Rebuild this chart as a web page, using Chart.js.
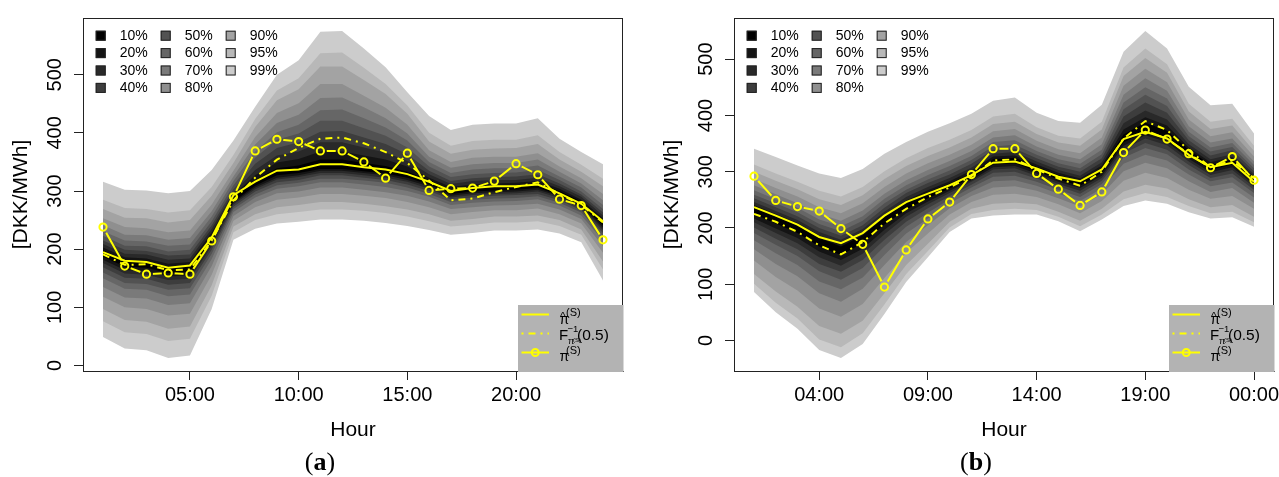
<!DOCTYPE html>
<html>
<head>
<meta charset="utf-8">
<script src="https://cdn.jsdelivr.net/npm/chart.js@4.4.1/dist/chart.umd.min.js"></script>
<style>
  body{margin:0;background:#fff;}
  #wrap{position:relative;width:1279px;height:477px;overflow:hidden;background:#fff;}
  .panel{position:absolute;top:0;height:477px;overflow:hidden;}
  .cap{position:absolute;top:447px;width:80px;text-align:center;font:26px/30px "Liberation Serif","Times New Roman",serif;color:#000;}
</style>
</head>
<body>
<div id="wrap">
  <div class="panel" style="left:0;width:640px"><canvas id="chartA" width="640" height="477"></canvas></div>
  <div class="panel" style="left:640px;width:639px"><canvas id="chartB" width="680" height="477"></canvas></div>
  <div class="cap" style="left:280px">(<b>a</b>)</div>
  <div class="cap" style="left:936px">(<b>b</b>)</div>
</div>
<script>
const YEL = '#ffff00';
const hours = [1,2,3,4,5,6,7,8,9,10,11,12,13,14,15,16,17,18,19,20,21,22,23,24];
const yTicks = [0,100,200,300,400,500];
const bandLabels = ['10%','20%','30%','40%','50%','60%','70%','80%','90%','95%','99%'];
const bandColors = ['#000000','#141414','#292929','#3d3d3d','#525252','#666666','#7a7a7a','#8f8f8f','#a3a3a3','#b8b8b8','#cccccc'];

// ---- panel (a)
const xTicksA = [5,10,15,20];
const xLabelsA = ['05:00','10:00','15:00','20:00'];
const piSA   = [238,171,157,159,157,214,290,369,389,385,369,369,350,322,365,301,304,305,317,347,328,286,275,216];
const piHatA = [195,180,178,168,172,220,293,316,335,337,346,346,341,337,329,316,300,305,308,308,311,296,278,248];
const medA   = [191,173,174,164,165,215,284,323,354,374,390,392,382,367,348,318,284,287,298,307,315,295,276,246];

const aUp10 = [198,181,179,170,172,225,289,319,339,344,354,354,348,343,333,319,302,306,308,309,313,300,282,249];
const aUp20 = [203,186,184,175,178,229,293,327,349,355,368,368,361,354,342,323,307,311,313,314,317,304,285,253];
const aUp30 = [209,192,191,182,184,235,298,336,361,368,384,384,375,366,352,329,312,317,319,319,323,308,290,258];
const aUp40 = [215,199,197,189,191,241,303,347,374,384,402,403,392,381,363,335,317,322,324,325,329,313,294,263];
const aUp50 = [223,206,205,196,199,248,310,357,388,399,421,421,408,395,375,342,324,329,331,332,336,319,299,269];
const aUp60 = [231,215,213,206,208,256,317,368,401,414,439,440,425,409,387,350,331,337,339,339,344,325,306,276];
const aUp70 = [241,225,224,216,219,265,325,380,417,431,460,461,444,425,399,359,340,346,348,348,354,333,313,284];
const aUp80 = [253,238,236,229,232,277,335,393,434,451,484,484,464,443,414,370,350,357,359,359,365,342,322,295];
const aUp90 = [269,254,253,246,250,292,348,410,456,475,514,514,491,467,433,385,364,371,373,374,381,354,333,308];
const aUp95 = [285,271,269,263,267,307,362,424,473,494,537,538,512,484,447,400,378,386,388,388,396,367,345,321];
const aUp99 = [316,302,301,296,300,336,387,445,500,525,574,575,545,513,470,429,405,414,416,416,425,390,367,346];

const aLo10 = [187,170,168,159,161,215,282,309,327,331,338,338,334,330,323,311,295,299,301,302,305,293,275,241];
const aLo20 = [182,164,162,153,155,210,280,306,323,327,335,335,331,327,319,308,292,296,298,299,302,291,273,237];
const aLo30 = [176,158,156,147,149,205,277,303,320,324,331,331,327,323,316,304,289,293,295,296,299,288,270,233];
const aLo40 = [169,151,149,139,142,199,273,299,315,319,327,327,323,319,311,300,286,289,292,293,295,284,267,228];
const aLo50 = [160,142,140,130,133,192,269,294,310,314,321,321,318,314,306,295,281,285,287,288,291,280,263,222];
const aLo60 = [150,132,130,119,122,183,264,289,304,308,315,315,311,307,300,290,276,280,282,283,286,275,258,215];
const aLo70 = [135,117,115,104,107,171,257,281,296,299,306,306,302,298,292,282,269,272,275,276,278,268,252,205];
const aLo80 = [118,100,97,86,89,156,249,272,285,289,295,295,292,288,281,272,260,264,267,267,270,260,244,194];
const aLo90 = [97,78,75,63,67,138,239,260,272,276,281,281,278,274,268,260,249,252,256,256,258,250,234,179];
const aLo95 = [76,57,54,42,46,120,229,250,260,264,268,268,266,262,256,248,239,242,246,246,248,240,225,165];
const aLo99 = [49,29,26,13,17,97,216,235,244,247,251,251,249,245,240,233,225,228,232,232,234,227,212,146];

// ---- panel (b)
const xTicksB = [4,9,14,19,24];
const xLabelsB = ['04:00','09:00','14:00','19:00','00:00'];
const piSB   = [292,249,238,230,199,171,95,161,216,246,295,341,341,297,269,240,264,334,374,358,332,307,327,285];
const piHatB = [237,222,206,184,173,191,222,246,261,276,294,316,318,306,291,283,304,358,371,359,330,308,316,282];
const medB   = [225,211,193,169,153,175,208,234,255,272,292,320,322,304,288,275,300,359,390,374,338,308,320,288];

const bUp10 = [236,220,204,182,167,187,219,245,263,279,297,322,325,309,294,283,307,366,387,373,339,312,322,288];
const bUp20 = [241,225,209,187,172,192,223,249,267,283,302,327,329,313,298,288,311,375,397,382,343,317,326,292];
const bUp30 = [246,230,214,193,179,198,229,255,273,289,307,332,335,318,303,293,317,386,409,393,349,322,331,296];
const bUp40 = [253,237,221,200,186,205,236,262,280,295,314,339,341,324,309,300,324,398,423,405,356,329,338,301];
const bUp50 = [259,244,228,207,194,213,244,268,286,302,321,345,348,330,315,306,331,411,437,417,363,336,344,306];
const bUp60 = [267,251,236,215,203,221,252,276,294,310,328,353,356,337,322,314,339,423,450,430,371,343,351,312];
const bUp70 = [276,260,244,225,213,231,261,285,303,319,337,361,365,345,330,322,349,437,466,444,381,352,359,318];
const bUp80 = [287,271,256,237,226,244,273,297,315,330,348,372,376,355,340,333,361,453,483,459,393,363,370,327];
const bUp90 = [300,284,269,251,241,258,287,310,328,343,361,385,389,367,352,346,375,470,502,476,407,376,382,337];
const bUp95 = [313,297,282,266,256,273,301,324,342,357,374,398,403,379,364,359,389,485,519,491,421,389,394,346];
const bUp99 = [341,326,311,297,289,305,332,353,371,386,403,426,432,405,390,387,419,513,550,519,451,418,421,368];

const bLo10 = [225,208,191,167,152,173,206,233,253,270,289,313,315,301,286,275,298,352,372,359,329,303,313,281];
const bLo20 = [217,199,182,158,143,163,197,226,247,266,285,308,310,297,282,271,293,346,365,353,323,299,308,277];
const bLo30 = [210,191,173,148,133,154,189,220,242,262,282,304,306,293,278,266,289,340,359,347,318,294,303,273];
const bLo40 = [201,181,162,136,122,143,179,211,235,257,277,298,300,288,274,261,284,333,351,339,312,289,297,268];
const bLo50 = [191,170,150,123,108,129,167,202,227,251,272,291,293,282,268,255,278,325,342,331,304,283,290,262];
const bLo60 = [178,155,134,105,91,112,152,190,217,244,265,283,285,275,261,248,270,314,330,320,295,274,281,254];
const bLo70 = [162,136,114,84,69,92,134,175,205,235,257,272,274,266,253,238,260,301,316,306,283,264,271,245];
const bLo80 = [142,113,89,57,42,65,111,156,190,224,246,259,261,255,242,226,248,284,298,289,268,252,257,234];
const bLo90 = [118,87,60,26,12,35,84,134,172,211,234,243,245,242,229,213,234,265,277,270,251,237,241,220];
const bLo95 = [101,67,39,2,-12,13,64,118,159,201,225,232,234,232,220,203,224,251,262,255,239,226,229,210];
const bLo99 = [86,50,21,-17,-31,-6,47,104,148,193,217,222,224,224,212,194,215,239,249,243,228,217,219,202];

Chart.defaults.font.family = '"Liberation Sans", Arial, sans-serif';
Chart.defaults.color = '#000';

const FONT = '"Liberation Sans", Arial, sans-serif';
const GAP = 6.5;

function pts(arr){ return arr.map((v,i) => ({x: hours[i], y: v})); }

function bandSets(lows, ups){
  const sets = [];
  bandColors.forEach((c, k) => {
    sets.push({data: pts(lows[k]), borderWidth: 0, borderColor: 'rgba(0,0,0,0)', pointRadius: 0, fill: false});
    sets.push({data: pts(ups[k]), borderWidth: 0, borderColor: 'rgba(0,0,0,0)', pointRadius: 0, backgroundColor: c, fill: '-1'});
  });
  return sets;
}

function txt(ctx, s, x, y, size){
  ctx.font = size + 'px ' + FONT;
  ctx.fillText(s, x, y);
}

function drawBandLegend(ctx, ca){
  ctx.textBaseline = 'middle';
  ctx.textAlign = 'left';
  bandLabels.forEach((lab, k) => {
    const col = Math.floor(k / 4), row = k % 4;
    const sx = ca.left + 12.7 + col * 65, sy = ca.top + 17.7 + row * 17.4;
    ctx.fillStyle = bandColors[k];
    ctx.fillRect(sx, sy - 5, 10, 10);
    ctx.strokeStyle = '#222';
    ctx.lineWidth = 1;
    ctx.strokeRect(sx + 0.5, sy - 4.5, 9, 9);
    ctx.fillStyle = '#000';
    txt(ctx, lab, sx + 24, sy + 0.5, 14);
  });
}

function drawLineLegend(ctx, ca){
  const bx = ca.right - 105, by = ca.bottom - 66;
  ctx.fillStyle = '#b3b3b3';
  ctx.fillRect(bx, by, 105.5, 67);
  const x1 = bx + 3.5, x2 = bx + 31;
  const r1 = by + 9.5, r2 = by + 28.5, r3 = by + 47.5;
  ctx.strokeStyle = YEL;
  ctx.lineWidth = 2;
  ctx.beginPath(); ctx.moveTo(x1, r1); ctx.lineTo(x2, r1); ctx.stroke();
  ctx.setLineDash([2,5,7,5]);
  ctx.beginPath(); ctx.moveTo(x1, r2); ctx.lineTo(x2, r2); ctx.stroke();
  ctx.setLineDash([]);
  ctx.beginPath(); ctx.moveTo(x1, r3); ctx.lineTo(x2, r3); ctx.stroke();
  ctx.beginPath(); ctx.arc((x1 + x2) / 2, r3, 3.5, 0, Math.PI * 2); ctx.stroke();

  ctx.fillStyle = '#000';
  ctx.textBaseline = 'alphabetic';
  ctx.textAlign = 'left';
  // pi-hat (S)
  txt(ctx, '\u03c0', bx + 41.5, by + 18.5, 14);
  txt(ctx, '^', bx + 42.3, by + 14.5, 11);
  txt(ctx, '(S)', bx + 48, by + 10.5, 11);
  // F^-1 pi(S) (0.5)
  txt(ctx, 'F', bx + 41, by + 34.5, 15);
  txt(ctx, '\u22121', bx + 49.5, by + 27, 9.5);
  txt(ctx, '\u03c0', bx + 50, by + 39, 9);
  txt(ctx, '(S)', bx + 55, by + 36.5, 6);
  txt(ctx, '(0.5)', bx + 59, by + 34.5, 15.5);
  // pi(S)
  txt(ctx, '\u03c0', bx + 41.5, by + 56, 14);
  txt(ctx, '(S)', bx + 48, by + 48.5, 11);
}

const framePlugin = {
  id: 'frame',
  beforeDatasetDraw(chart, args){
    if (!chart.data.datasets[args.index].gapLine) return;
    const ctx = chart.ctx;
    ctx.save();
    ctx.beginPath();
    ctx.rect(0, 0, chart.width, chart.height);
    chart.getDatasetMeta(0).data.forEach(p => {
      ctx.moveTo(p.x + GAP, p.y);
      ctx.arc(p.x, p.y, GAP, 0, Math.PI * 2);
    });
    ctx.clip('evenodd');
  },
  afterDatasetDraw(chart, args){
    if (chart.data.datasets[args.index].gapLine) chart.ctx.restore();
  },
  afterDraw(chart){
    const ctx = chart.ctx, ca = chart.chartArea;
    ctx.save();
    ctx.strokeStyle = '#222';
    ctx.lineWidth = 1;
    ctx.strokeRect(Math.round(ca.left) + 0.5, Math.round(ca.top) + 0.5,
                   Math.round(ca.right - ca.left) - 1, Math.round(ca.bottom - ca.top));
    drawBandLegend(ctx, ca);
    drawLineLegend(ctx, ca);
    ctx.restore();
  }
};

function makeChart(id, p){
  const lines = [
    {data: pts(p.piS), showLine: false, pointRadius: 3.6, pointBorderWidth: 2,
     pointBorderColor: YEL, pointBackgroundColor: 'rgba(0,0,0,0)', fill: false},
    {data: pts(p.piS), gapLine: true, borderColor: YEL, borderWidth: 2, pointRadius: 0, fill: false},
    {data: pts(p.med), borderColor: YEL, borderWidth: 2, borderDash: [7,5,2,5], pointRadius: 0, fill: false},
    {data: pts(p.hat), borderColor: YEL, borderWidth: 2, pointRadius: 0, fill: false}
  ];
  return new Chart(document.getElementById(id), {
    type: 'line',
    data: {datasets: lines.concat(bandSets(p.lo, p.up))},
    options: {
      responsive: false,
      animation: false,
      devicePixelRatio: 1,
      layout: {padding: {left: 0, top: 18, right: p.padRight, bottom: 0}},
      plugins: {legend: {display: false}, tooltip: {enabled: false}},
      scales: {
        x: {
          type: 'linear', min: 0.08, max: 24.92,
          afterFit: s => { s.height = 106; },
          afterBuildTicks: s => { s.ticks = p.xTicks.map(v => ({value: v})); },
          ticks: {callback: (v, i) => p.xLabels[i], padding: 3, font: {size: 20}, color: '#000', autoSkip: false, maxRotation: 0},
          grid: {drawOnChartArea: false, drawTicks: true, tickLength: 9, color: '#222'},
          border: {display: true, color: '#222', width: 1},
          title: {display: true, text: 'Hour', font: {size: 21}, color: '#000', padding: {top: 0, bottom: 34}}
        },
        y: {
          type: 'linear', min: p.yMin, max: p.yMax, bounds: 'data',
          afterFit: s => { s.width = p.yWidth; },
          afterBuildTicks: s => { s.ticks = yTicks.map(v => ({value: v})); },
          ticks: {padding: 2.3, minRotation: 90, maxRotation: 90, crossAlign: 'center', font: {size: 20}, color: '#000'},
          grid: {drawOnChartArea: false, drawTicks: true, tickLength: 9, color: '#222'},
          border: {display: true, color: '#222', width: 1},
          title: {display: true, text: '[DKK/MWh]', font: {size: 21}, color: '#000', padding: {top: p.yTitlePad, bottom: 0}}
        }
      }
    },
    plugins: [framePlugin]
  });
}

makeChart('chartA', {
  piS: piSA, hat: piHatA, med: medA,
  lo: [aLo10,aLo20,aLo30,aLo40,aLo50,aLo60,aLo70,aLo80,aLo90,aLo95,aLo99],
  up: [aUp10,aUp20,aUp30,aUp40,aUp50,aUp60,aUp70,aUp80,aUp90,aUp95,aUp99],
  xTicks: xTicksA, xLabels: xLabelsA,
  yMin: -9.5, yMax: 597.5, yWidth: 83, yTitlePad: 8.9, padRight: 17
});
makeChart('chartB', {
  piS: piSB, hat: piHatB, med: medB,
  lo: [bLo10,bLo20,bLo30,bLo40,bLo50,bLo60,bLo70,bLo80,bLo90,bLo95,bLo99],
  up: [bUp10,bUp20,bUp30,bUp40,bUp50,bUp60,bUp70,bUp80,bUp90,bUp95,bUp99],
  xTicks: xTicksB, xLabels: xLabelsB,
  yMin: -54.2, yMax: 573.2, yWidth: 94, yTitlePad: 19.2, padRight: 46
});
</script>
</body>
</html>
